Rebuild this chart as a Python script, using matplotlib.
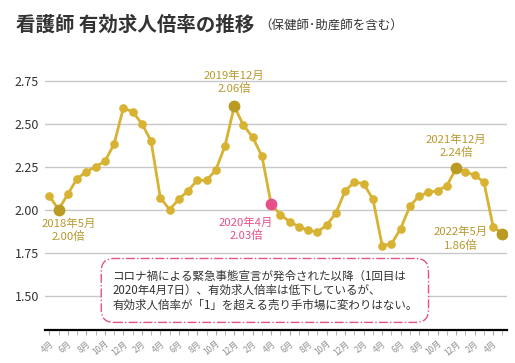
import matplotlib
matplotlib.use("Agg")
import matplotlib.pyplot as plt

plt.rcParams["font.family"] = ["Noto Sans CJK JP", "DejaVu Sans"]

# 2018年4月 -> 2022年5月 (monthly)
RATIO = [
    2.08, 2.00, 2.09, 2.18, 2.22, 2.25, 2.28, 2.38, 2.59, 2.57, 2.50, 2.40,
    2.07, 2.00, 2.06, 2.11, 2.17, 2.17, 2.23, 2.37, 2.60, 2.49, 2.42, 2.31,
    2.03, 1.97, 1.93, 1.90, 1.88, 1.87, 1.91, 1.98, 2.11, 2.16, 2.15, 2.06,
    1.79, 1.80, 1.89, 2.02, 2.08, 2.10, 2.11, 2.14, 2.24, 2.22, 2.20, 2.16,
    1.90, 1.86,
]
TICK_LABELS = [
    "4月", "6月", "8月", "10月", "12月", "2月",
    "4月", "6月", "8月", "10月", "12月", "2月",
    "4月", "6月", "8月", "10月", "12月", "2月",
    "4月", "6月", "8月", "10月", "12月", "2月",
    "4月",
]
HIGHLIGHT_IDX = [1, 20, 44, 49]
HIGHLIGHT_TXT = ["2018年5月\n2.00倍", "2019年12月\n2.06倍",
                 "2021年12月\n2.24倍", "2022年5月\n1.86倍"]
COVID_IDX = 24
COVID_TXT = "2020年4月\n2.03倍"
NOTE = ("コロナ禍による緊急事態宣言が発令された以降（1回目は\n"
        "2020年4月7日）、有効求人倍率は低下しているが、\n"
        "有効求人倍率が「1」を超える売り手市場に変わりはない。")

GOLD = "#d8b232"
GOLD_DARK = "#bb9a24"
GOLD_TXT = "#b8992e"
PINK = "#e6508a"

fig = plt.figure(figsize=(5.15, 3.63), dpi=100)
ax = fig.add_axes([0.0868, 0.0909, 0.8977, 0.7344])

x = list(range(len(RATIO)))
ax.plot(x, RATIO, color=GOLD, lw=2, marker="o", ms=5.2, mec=GOLD, zorder=3)
for i in HIGHLIGHT_IDX:
    ax.plot(i, RATIO[i], "o", color=GOLD_DARK, ms=7.5, zorder=4)
ax.plot(COVID_IDX, RATIO[COVID_IDX], "o", color=PINK, ms=7.5, zorder=4)

ax.set_xlim(-0.5, len(RATIO) - 0.5)
ax.set_ylim(1.30, 2.85)
ax.set_yticks([1.50, 1.75, 2.00, 2.25, 2.50, 2.75])
ax.set_yticklabels(["1.50", "1.75", "2.00", "2.25", "2.50", "2.75"])
ax.grid(axis="y", color="#c8c8c8", lw=1)
ax.set_axisbelow(True)
for s in ("top", "right", "left"):
    ax.spines[s].set_visible(False)
ax.spines["bottom"].set_color("black")
ax.spines["bottom"].set_linewidth(1.6)
ax.tick_params(axis="y", length=0, labelsize=9, labelcolor="#333333", pad=4)

ax.set_xticks(x, minor=True)
ax.set_xticks(x[::2])
ax.set_xticklabels(TICK_LABELS, rotation=40, ha="right", rotation_mode="anchor",
                   fontsize=6, color="#909090")
ax.tick_params(axis="x", which="both", length=3.5, color="#aaaaaa", pad=3)

# annotations (offsets in pixels)
offsets = {1: (10, -21), 20: (0, 24), 44: (0, 22), 49: (-42, -5)}
for i, t in zip(HIGHLIGHT_IDX, HIGHLIGHT_TXT):
    dx, dy = offsets[i]
    ax.annotate(t, (i, RATIO[i]), xytext=(dx, dy), textcoords="offset pixels",
                ha="center", va="center", fontsize=8.2, color=GOLD_TXT,
                linespacing=1.25)
ax.annotate(COVID_TXT, (COVID_IDX, RATIO[COVID_IDX]), xytext=(-25, -25),
            textcoords="offset pixels", ha="center", va="center", fontsize=8.2,
            color=PINK, linespacing=1.25)

ax.text(6.8, 1.53, NOTE, ha="left", va="center", fontsize=8.3,
        color="#333333", linespacing=1.15, zorder=5,
        bbox=dict(boxstyle="round,pad=0.95,rounding_size=1.1", fc="white",
                  ec=PINK, lw=1, ls="-."))

fig.text(0.031, 0.932, "看護師 有効求人倍率の推移", fontsize=14,
         fontweight="bold", color="#333333", va="center", ha="left")
fig.text(0.503, 0.930, "（保健師･助産師を含む）", fontsize=9,
         color="#333333", va="center", ha="left")

fig.savefig("out.png", dpi=100, facecolor="white")
